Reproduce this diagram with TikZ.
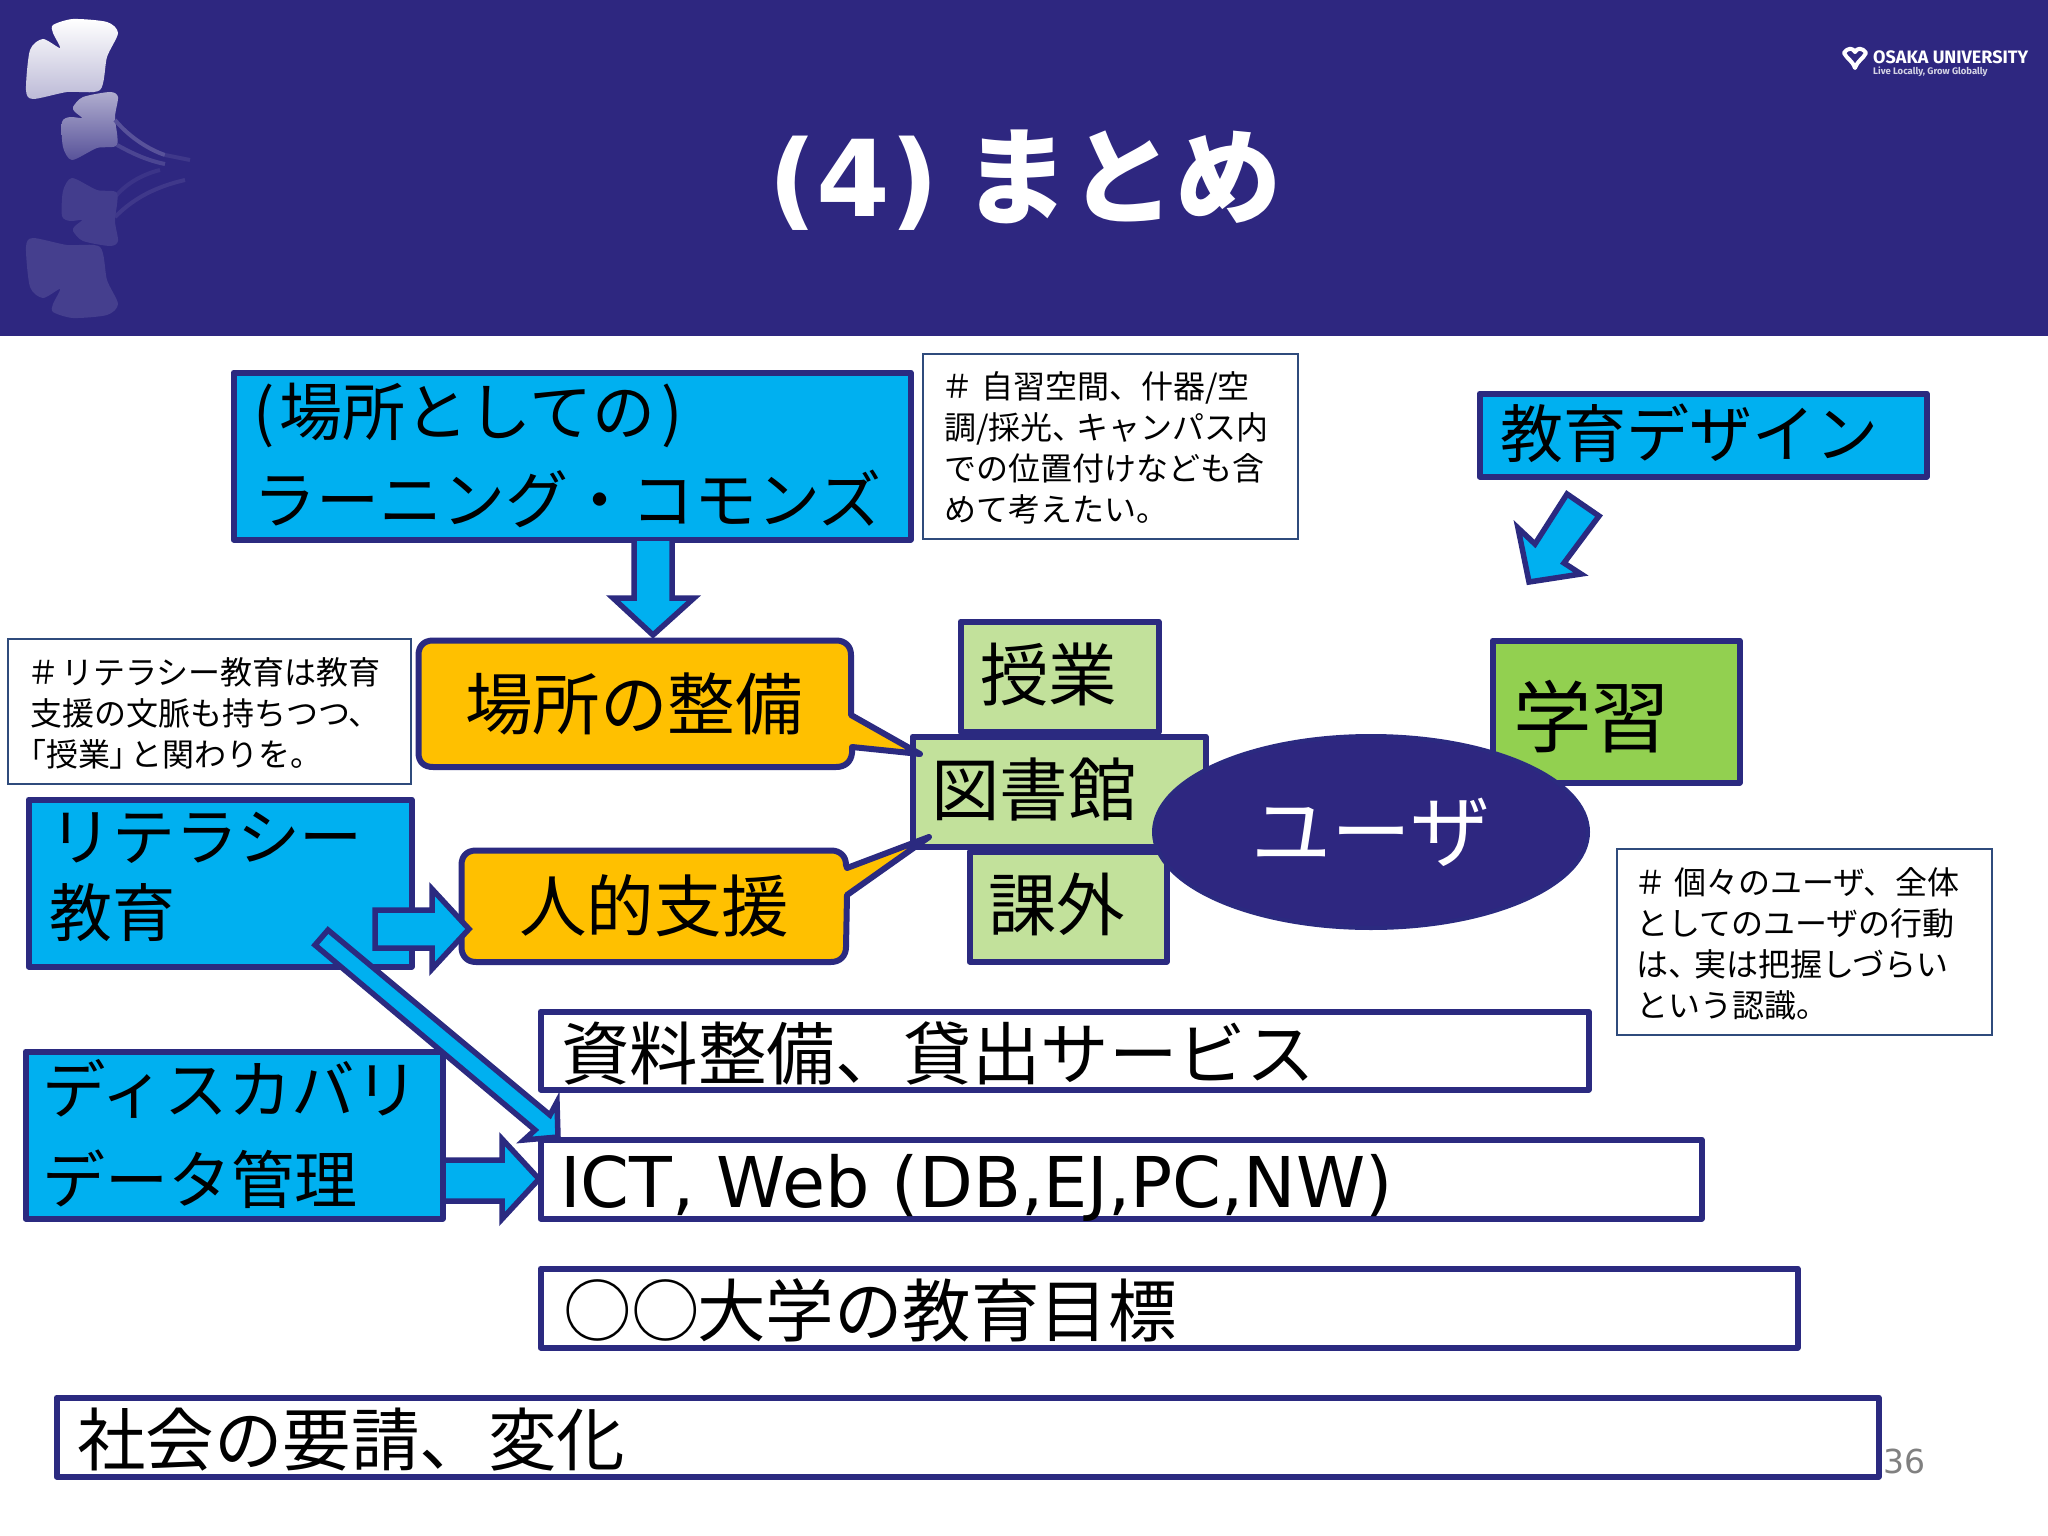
\documentclass[tikz,border=0pt]{standalone}
\usepackage{fontspec}
\usetikzlibrary{shapes.geometric}
\setmainfont{Noto Sans CJK JP}
\newfontfamily\vfont{DejaVu Sans}
\newfontfamily\lfont{Fira Sans}
\newfontfamily\paltf[RawFeature=+palt]{Noto Sans CJK JP}
\definecolor{band}{HTML}{2E2780}
\definecolor{edge}{HTML}{2B2A80}
\definecolor{cyanb}{HTML}{00B0F0}
\definecolor{amber}{HTML}{FFC000}
\definecolor{lgreen}{HTML}{C2E19B}
\definecolor{mgreen}{HTML}{92D050}
\definecolor{noteedge}{HTML}{2F4B7C}
\tikzset{
 x=1pt,y=-1pt,
 boxbase/.style={draw=edge,line width=6pt,line join=round,anchor=north west,inner sep=0pt,outer sep=0pt},
 bluebox/.style={boxbase,fill=cyanb},
 greenbox/.style={boxbase,fill=lgreen},
 whitebox/.style={boxbase,fill=white},
 blockarrow/.style={draw=edge,line width=5.5pt,fill=cyanb,line join=miter,miter limit=10},
 callout/.style={draw=edge,line width=6pt,fill=amber,line join=round},
 bigt/.style={font=\fontsize{68.5}{68.5}\selectfont,anchor=base west,inner sep=0pt,text=black},
 midt/.style={font=\fontsize{63}{63}\selectfont,anchor=base west,inner sep=0pt,text=black},
 notet/.style={font=\fontsize{32}{41}\selectfont,anchor=north west,align=left,inner sep=0pt,text=black},
 notebox/.style={draw=noteedge,line width=1.5pt,fill=white},
}
\newcommand{\nl}{\rule{0pt}{28.8pt}}
\begin{document}
\begin{tikzpicture}
\useasboundingbox (0,0) rectangle (2048,1536);
\fill[white] (0,0) rectangle (2048,1536);
\fill[band] (0,0) rectangle (2048,336);
% ginkgo leaves
\shade[top color=white,bottom color=white!68!band,draw=none] plot[smooth cycle,tension=0.45] coordinates
 {(53,25) (73,19) (107,22) (118,33) (107,57) (100,90) (67,92) (33,99) (26,90) (30,50) (43,39) (60,48) (53,33)};
\shade[top color=white!62!band,bottom color=white!20!band,draw=none] plot[smooth cycle,tension=0.45] coordinates
 {(73,107) (83,97) (110,92) (118,97) (115,117) (117,145) (97,148) (72,160) (63,147) (62,122) (70,117) (82,118) (75,112)};
\draw[white!20!band,line width=4pt] (115,120) .. controls (130,138) and (150,150) .. (165,155);
\draw[white!8!band,line width=4pt] (165,155) -- (190,160);
\draw[white!14!band,line width=4pt] (117,145) .. controls (130,152) and (145,160) .. (165,164);
\draw[white!6!band,line width=4pt] (115,197) .. controls (125,185) and (140,175) .. (160,170);
\draw[white!8!band,line width=4pt] (115,217) .. controls (130,202) and (150,188) .. (185,180);
\fill[white!10!band] plot[smooth cycle,tension=0.45] coordinates
 {(73,231) (83,241) (110,246) (118,241) (115,221) (117,193) (97,190) (72,178) (63,191) (62,216) (70,221) (82,220) (75,226)};
\fill[white!11!band] plot[smooth cycle,tension=0.45] coordinates
 {(53,312) (73,318) (107,315) (118,304) (107,280) (100,247) (67,245) (33,238) (26,247) (30,287) (43,298) (60,289) (53,304)};
% logo
\draw[white,line width=4pt,line join=round] (1844,53) .. controls (1848,47) and (1853,48) .. (1855,52) .. controls (1857,48) and (1862,47) .. (1866,53) .. controls (1863,59) and (1858,60) .. (1855,68) .. controls (1852,60) and (1847,59) .. (1844,53) -- cycle;
\node[anchor=base west,inner sep=0pt,text=white,font=\lfont\bfseries\fontsize{18}{18}\selectfont] (logoa) at (1873,64) {OSAKA UNIVERSITY};
\node[anchor=base west,inner sep=0pt,text=white!80!band,font=\lfont\bfseries\fontsize{9.5}{10}\selectfont] (logob) at (1873,75) {Live Locally, Grow Globally};
% title
\node[anchor=center,inner sep=0pt,text=white,font=\fontsize{106}{106}\selectfont\bfseries] (title) at (1025,180) {{\vfont (4)} まとめ};
% library group boxes
\node[greenbox,minimum width=198pt,minimum height=110pt] (jugyo) at (960.5,621.5) {};
\node[greenbox,minimum width=197pt,minimum height=110pt] (kagai) at (969.5,851.5) {};
\node[greenbox,minimum width=293pt,minimum height=110pt] (tosho) at (912.5,736.5) {};
\node[bigt] (jugyot) at (980,700) {授業};
\node[bigt] (kagait) at (988,930) {課外};
\node[bigt] (toshot) at (931,815) {図書館};
% callouts
\draw[callout]
 (433,640.5) -- (836,640.5) .. controls (845,640.5) and (851,646) .. (851,655) -- (851,715) -- (920,754) -- (852,747)
 -- (852,753) .. controls (851,762) and (845,767) .. (836,767) -- (433,767)
 .. controls (424,767) and (418.5,762) .. (418.5,753) -- (418.5,655) .. controls (418.5,646) and (424,640.5) .. (433,640.5) -- cycle;
\node[bigt,font=\fontsize{67.5}{67.5}\selectfont] (bashot) at (465,729) {場所の整備};
\draw[callout]
 (476,850.5) -- (831,850.5) .. controls (840,850.5) and (846,856) .. (846,865) -- (847,868) -- (929,837) -- (847,895)
 -- (846,947) .. controls (846,956) and (840,962) .. (831,962) -- (476,962)
 .. controls (467,962) and (461.5,956) .. (461.5,947) -- (461.5,865) .. controls (461.5,856) and (467,850.5) .. (476,850.5) -- cycle;
\node[bigt,font=\fontsize{67.5}{67.5}\selectfont] (jintekit) at (519,931) {人的支援};
% learning
\node[boxbase,fill=mgreen,minimum width=247pt,minimum height=142pt] (gakushu) at (1492.5,640.5) {};
\node[bigt,font=\fontsize{78.5}{78.5}\selectfont] (gakushut) at (1513,746) {学習};
% user
\node[ellipse,draw=edge,line width=4pt,fill=band,minimum width=434pt,minimum height=192pt,inner sep=0pt,text=white,font=\fontsize{80}{80}\selectfont] (user) at (1371,832) {ユーザ};
% blue boxes
\node[bluebox,minimum width=677pt,minimum height=167pt] (lc) at (233.5,372.5) {};
\node[midt] (lc1) at (253,435) {(\kern5pt場所としての\kern6pt)};
\node[midt] (lc2) at (253,523) {ラーニング・コモンズ};
\node[bluebox,minimum width=447pt,minimum height=83pt] (design) at (1479.5,393.5) {};
\node[midt] (designt) at (1500,457) {教育デザイン};
\node[bluebox,minimum width=383pt,minimum height=167pt] (lit) at (28.5,799.5) {};
\node[midt] (lit1) at (49,860) {リテラシー};
\node[midt] (lit2) at (49,936) {教育};
\node[bluebox,minimum width=417pt,minimum height=167pt] (disc) at (25.5,1051.5) {};
\node[midt,font=\fontsize{63.5}{63.5}\selectfont] (disc1) at (42,1113) {ディスカバリ};
\node[midt] (disc2) at (42,1203) {データ管理};
% white boxes
\node[whitebox,minimum width=1048pt,minimum height=78pt] (shiryo) at (540.5,1011.5) {};
\node[bigt] (shiryot) at (561,1079) {資料整備、貸出サービス};
\node[whitebox,minimum width=1161pt,minimum height=79pt] (ict) at (540.5,1139.5) {};
\node[bigt,font=\vfont\fontsize{70}{70}\selectfont] (ictt) at (560,1207) {ICT, Web (DB,EJ,PC,NW)};
\node[whitebox,minimum width=1257pt,minimum height=79pt] (goal) at (540.5,1268.5) {};
\node[bigt] (goalt) at (563,1336) {○○\kern-3pt 大学の教育目標};
\node[whitebox,minimum width=1822pt,minimum height=79pt] (soc) at (56.5,1397.5) {};
\node[bigt] (soct) at (77,1465) {社会の要請、変化};
% block arrows
\draw[blockarrow] (634,541) -- (634,598) -- (613,598) -- (653,635) -- (694,598) -- (672,598) -- (672,541);
\draw[blockarrow] (1567,494) -- (1599,516) -- (1564,563) -- (1581,574) -- (1529,582) -- (1518,528) -- (1535,544) -- cycle;
\draw[blockarrow] (375,910) -- (432,910) -- (432,889) -- (469,929) -- (432,969) -- (432,948) -- (375,948) -- cycle;
\draw[blockarrow] (446,1160) -- (502,1160) -- (502,1139) -- (539,1179) -- (502,1219) -- (502,1201) -- (446,1201);
\draw[blockarrow] (328,930) -- (550,1115) -- (557,1102) -- (558,1137) -- (524,1140) -- (535,1130) -- (315,945) -- cycle;
% notes
\draw[notebox] (923,354) rectangle (1298,539);
\node[notet] (n1) at (944,369) {\nl \kern-3pt ＃\kern8pt 自習空間、什器/空\\調/採光、\kern-8pt キャンパス内\\での位置付けなども含\\めて考えたい。};
\draw[notebox] (8,639) rectangle (411,784);
\node[notet] (n2) at (30,655) {\nl \kern-3pt ＃\kern2pt リテラシー教育は教育\\支援の文脈も持ちつつ、\\{\paltf 「}授業{\paltf 」}\kern4pt と関わりを。};
\draw[notebox] (1617,849) rectangle (1992,1035);
\node[notet] (n3) at (1636,865) {\nl \kern-2pt ＃\kern8pt 個々のユーザ、全体\\としてのユーザの行動\\は、\kern-6pt 実は把握しづらい\\という認識。};
% page number
\node[anchor=base west,inner sep=0pt,text=black!50,font=\vfont\fontsize{33}{33}\selectfont] (pg) at (1883,1473) {36};
\end{tikzpicture}
\end{document}
